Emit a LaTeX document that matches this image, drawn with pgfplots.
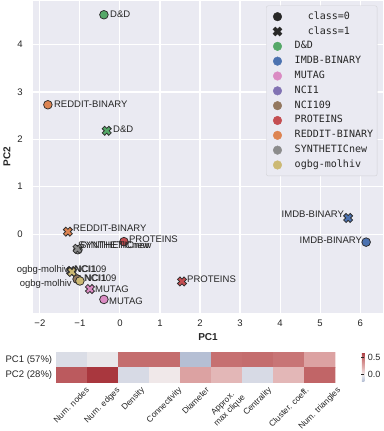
\documentclass[border=0pt]{standalone}
\usepackage{fontspec}
\setmainfont{Liberation Sans}
\setmonofont{DejaVu Sans Mono}
\usepackage{graphicx}
\usepackage{pgfplots}
\pgfplotsset{compat=1.18}

\definecolor{axbg}{RGB}{234,234,242}
\definecolor{txt}{RGB}{38,38,38}
\definecolor{edgec}{RGB}{45,45,45}
\definecolor{lgedge}{RGB}{210,210,214}
\definecolor{clsc}{RGB}{40,40,40}
\definecolor{cDD}{RGB}{85,168,104}
\definecolor{cIMDB}{RGB}{76,114,176}
\definecolor{cMUT}{RGB}{218,139,195}
\definecolor{cNCIa}{RGB}{129,114,179}
\definecolor{cNCIb}{RGB}{147,120,96}
\definecolor{cPROT}{RGB}{196,78,82}
\definecolor{cRED}{RGB}{221,132,82}
\definecolor{cSYN}{RGB}{140,140,140}
\definecolor{cOGB}{RGB}{204,185,116}

% filled "X" marker like seaborn's
\pgfdeclareplotmark{fatx}{%
  \pgfpathmoveto{\pgfqpoint{0pt}{0.55\pgfplotmarksize}}%
  \pgfpathlineto{\pgfqpoint{0.48\pgfplotmarksize}{1.05\pgfplotmarksize}}%
  \pgfpathlineto{\pgfqpoint{1.05\pgfplotmarksize}{0.48\pgfplotmarksize}}%
  \pgfpathlineto{\pgfqpoint{0.55\pgfplotmarksize}{0pt}}%
  \pgfpathlineto{\pgfqpoint{1.05\pgfplotmarksize}{-0.48\pgfplotmarksize}}%
  \pgfpathlineto{\pgfqpoint{0.48\pgfplotmarksize}{-1.05\pgfplotmarksize}}%
  \pgfpathlineto{\pgfqpoint{0pt}{-0.55\pgfplotmarksize}}%
  \pgfpathlineto{\pgfqpoint{-0.48\pgfplotmarksize}{-1.05\pgfplotmarksize}}%
  \pgfpathlineto{\pgfqpoint{-1.05\pgfplotmarksize}{-0.48\pgfplotmarksize}}%
  \pgfpathlineto{\pgfqpoint{-0.55\pgfplotmarksize}{0pt}}%
  \pgfpathlineto{\pgfqpoint{-1.05\pgfplotmarksize}{0.48\pgfplotmarksize}}%
  \pgfpathlineto{\pgfqpoint{-0.48\pgfplotmarksize}{1.05\pgfplotmarksize}}%
  \pgfpathclose
  \pgfusepathqfillstroke}

\pgfplotsset{
  colormap={vlagish}{rgb255(0pt)=(181,191,212) rgb255(10pt)=(210,215,227)
    rgb255(20pt)=(241,237,238) rgb255(40pt)=(226,178,178) rgb255(60pt)=(209,135,136)
    rgb255(70pt)=(197,110,111) rgb255(85pt)=(169,55,62)},
  dsclasses/.style={scatter/classes={
    DD={fill=cDD}, IMDB={fill=cIMDB}, MUTAG={fill=cMUT}, NCIa={fill=cNCIa},
    NCIb={fill=cNCIb}, PROT={fill=cPROT}, RED={fill=cRED}, SYN={fill=cSYN}, OGB={fill=cOGB}}},
  ptlabel/.style={draw=none, mark=none, forget plot,
    point meta=explicit symbolic, nodes near coords,
    nodes near coords style={anchor=#1, inner sep=0pt, text=txt,
      font=\fontsize{9.5}{11}\selectfont}},
  % legend swatch: one marker, then room before the text
  lg/.style={legend image code/.code={%
      \draw[##1] plot[only marks] coordinates {(9pt,0pt)};
      \path (0pt,0pt) (24pt,0pt);},
    mark size=4.3pt, draw=#1, fill=#1},
}

\pgfplotstableread{
x y ds
-0.40 4.63 DD
6.15 -0.17 IMDB
-0.40 -1.38 MUTAG
-1.06 -0.95 NCIa
-1.07 -0.95 NCIb
0.10 -0.16 PROT
-1.80 2.73 RED
-1.05 -0.33 SYN
-1.00 -0.99 OGB
}\classzero

\pgfplotstableread{
x y ds
-0.33 2.18 DD
5.70 0.34 IMDB
-0.75 -1.16 MUTAG
-1.22 -0.78 NCIa
-1.21 -0.79 NCIb
1.55 -1.00 PROT
-1.30 0.05 RED
-1.06 -0.31 SYN
-1.20 -0.80 OGB
}\classone

% labels written to the right of their point
\pgfplotstableread{
lx ly lab
-0.25 4.65 D\&D
-0.175 2.22 D\&D
-0.275 -1.42 MUTAG
-0.625 -1.16 MUTAG
-0.88 -0.93 NCI1
-0.90 -0.93 NCI109
-1.13 -0.74 NCI1
-1.15 -0.74 NCI109
0.225 -0.10 PROTEINS
1.675 -0.95 PROTEINS
-1.65 2.75 REDDIT-BINARY
-1.175 0.13 REDDIT-BINARY
-1.05 -0.23 SYNTHETICnew
-1.00 -0.24 SYNTHETICnew
}\labelsW

% labels written to the left of their point
\pgfplotstableread{
lx ly lab
6.05 -0.12 IMDB-BINARY
5.60 0.42 IMDB-BINARY
-1.20 -1.06 ogbg-molhiv
-1.275 -0.76 ogbg-molhiv
}\labelsE

\pgfplotstableread{
x y c
0 0 -0.08
1 0 -0.03
2 0 0.50
3 0 0.50
4 0 -0.206
5 0 0.49
6 0 0.50
7 0 0.47
8 0 0.27
0 1 0.55
1 1 0.647
2 1 -0.09
3 1 0.01
4 1 0.27
5 1 0.18
6 1 -0.09
7 1 0.18
8 1 0.52
}\loadings

\begin{document}
\begin{tikzpicture}
\begin{axis}[
  at={(0pt,0pt)}, anchor=south west,
  width=350pt, height=312pt, scale only axis, clip=false,
  xmin=-2.18, xmax=6.58, ymin=-1.67, ymax=4.93,
  axis background/.style={fill=axbg},
  axis line style={draw=none}, tick style={draw=none},
  grid=major, major grid style={white, line width=1.1pt},
  xtick={-2,...,6}, xticklabels={−2,−1,0,1,2,3,4,5,6},
  ytick={0,...,4}, yticklabels={0,1,2,3,4},
  ticklabel style={font=\fontsize{9.5}{11}\selectfont, text=txt},
  xticklabel style={yshift=-3.5pt},
  yticklabel style={xshift=-6.5pt},
  xlabel={\textbf{PC1}}, ylabel={\textbf{PC2}},
  label style={font=\fontsize{10}{12}\selectfont, text=txt},
  legend cell align=left,
  legend style={at={(1,1)}, anchor=north east, xshift=-6pt, yshift=-5pt,
    fill=axbg, draw=lgedge, rounded corners=2pt, text=txt,
    inner xsep=2pt, inner ysep=3.5pt,
    font=\ttfamily\fontsize{10}{12}\selectfont, row sep=0pt,
    nodes={inner xsep=2pt, inner ysep=2.5pt, text height=7.4pt, text depth=2.4pt}},
]
\addlegendimage{lg=clsc, mark=*}
\addlegendentry{\hspace{13pt}class=0}
\addlegendimage{lg=clsc, mark=fatx}
\addlegendentry{\hspace{13pt}class=1}
\addlegendimage{lg=cDD, mark=*}
\addlegendentry{D\&D}
\addlegendimage{lg=cIMDB, mark=*}
\addlegendentry{IMDB-BINARY}
\addlegendimage{lg=cMUT, mark=*}
\addlegendentry{MUTAG}
\addlegendimage{lg=cNCIa, mark=*}
\addlegendentry{NCI1}
\addlegendimage{lg=cNCIb, mark=*}
\addlegendentry{NCI109}
\addlegendimage{lg=cPROT, mark=*}
\addlegendentry{PROTEINS}
\addlegendimage{lg=cRED, mark=*}
\addlegendentry{REDDIT-BINARY}
\addlegendimage{lg=cSYN, mark=*}
\addlegendentry{SYNTHETICnew}
\addlegendimage{lg=cOGB, mark=*}
\addlegendentry{ogbg-molhiv}

\addplot[scatter, only marks, mark=*, mark size=4.3pt, forget plot,
  scatter src=explicit symbolic, dsclasses,
  mark options={draw=edgec, line width=0.75pt}]
  table[x=x, y=y, meta=ds] {\classzero};
\addplot[scatter, only marks, mark=fatx, mark size=4.3pt, forget plot,
  scatter src=explicit symbolic, dsclasses,
  mark options={draw=edgec, line width=0.75pt}]
  table[x=x, y=y, meta=ds] {\classone};

\addplot[ptlabel=west] table[x=lx, y=ly, meta=lab] {\labelsW};
\addplot[ptlabel=east] table[x=lx, y=ly, meta=lab] {\labelsE};
\end{axis}

\begin{axis}[
  at={(23pt,-69pt)}, anchor=south west,
  width=279pt, height=30pt, scale only axis,
  xmin=-0.5, xmax=8.5, ymin=-0.5, ymax=1.5, y dir=reverse,
  axis line style={draw=none}, tick style={draw=none},
  xtick={0,...,8}, ytick={0,1},
  yticklabels={PC1 (57\%), PC2 (28\%)},
  xticklabels={
    {\rotatebox{45}{Num. nodes}},
    {\rotatebox{45}{Num. edges}},
    {\rotatebox{45}{Density}},
    {\rotatebox{45}{Connectivity}},
    {\rotatebox{45}{Diameter}},
    {\rotatebox{45}{\begin{tabular}{@{}c@{}}Approx.\\max clique\end{tabular}}},
    {\rotatebox{45}{Centrality}},
    {\rotatebox{45}{Cluster. coeff.}},
    {\rotatebox{45}{Num. triangles}}},
  ticklabel style={font=\fontsize{9.5}{11}\selectfont, text=txt},
  xticklabel style={anchor=north, inner sep=0pt, yshift=-4pt,
    font=\fontsize{8.4}{9.6}\selectfont},
  colormap name=vlagish, point meta min=-0.206, point meta max=0.647,
  colorbar,
  colorbar style={at={(parent axis.north east)}, anchor=north west, xshift=18pt,
    width=2.5pt, height=29pt, axis line style={draw=none},
    ytick={0,0.5}, yticklabels={0.0,0.5}, ytick pos=right,
    ytick style={draw=txt, line width=0.7pt}, major tick length=3pt,
    yticklabel style={font=\fontsize{9}{11}\selectfont, text=txt}},
]
\addplot[matrix plot*, mesh/cols=9, point meta=explicit] table[x=x, y=y, meta=c] {\loadings};
\end{axis}
\end{tikzpicture}
\end{document}
